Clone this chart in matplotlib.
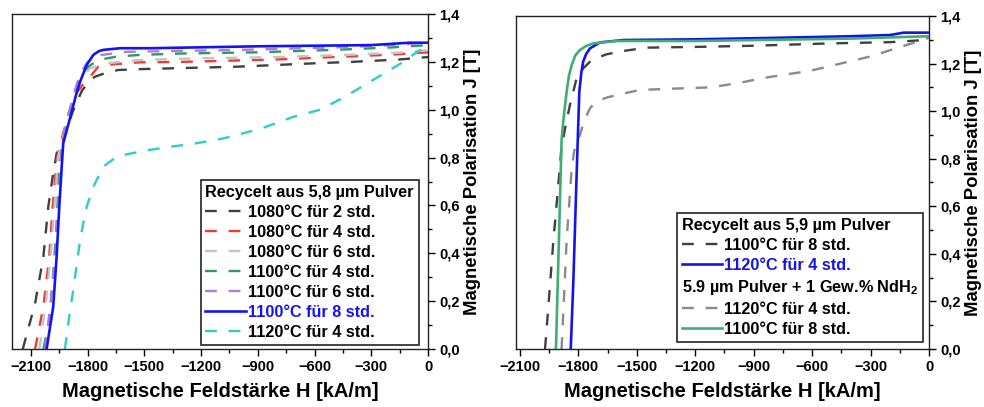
import matplotlib
matplotlib.use("Agg")
import matplotlib.pyplot as plt
from matplotlib.lines import Line2D
from matplotlib.ticker import MultipleLocator, FixedLocator, FixedFormatter

plt.rcParams['font.family'] = ['Liberation Sans', 'DejaVu Sans']
plt.rcParams['font.weight'] = 'bold'
plt.rcParams['mathtext.fontset'] = 'custom'
plt.rcParams['mathtext.rm'] = 'Liberation Sans:bold'
plt.rcParams['mathtext.default'] = 'rm'

# ---------------- data: left panel (Recycelt aus 5,8 µm Pulver) ----------------
H_1080_2 = [-2143, -2078, -2034, -2008, -1985, -1964, -1929, -1880, -1830, -1790, -1761, -1700, -1638, -1506, -1000, -600, -400, -150, 0]
J_1080_2 = [0.0, 0.19, 0.386, 0.595, 0.72, 0.818, 0.873, 0.99, 1.08, 1.12, 1.138, 1.155, 1.166, 1.170, 1.18, 1.194, 1.20, 1.21, 1.22]

H_1080_4 = [-2078, -2034, -2003, -1985, -1964, -1937, -1902, -1860, -1820, -1787, -1744, -1664, -1523, -1300, -800, -500, -200, 0]
J_1080_4 = [0.0, 0.177, 0.386, 0.595, 0.79, 0.88, 0.98, 1.07, 1.11, 1.138, 1.18, 1.19, 1.198, 1.20, 1.21, 1.22, 1.23, 1.24]

H_1080_6 = [-2055, -2020, -1995, -1975, -1957, -1932, -1902, -1860, -1820, -1787, -1699, -1523, -1200, -800, -400, -100, 0]
J_1080_6 = [0.0, 0.2, 0.4, 0.6, 0.8, 0.88, 0.98, 1.08, 1.14, 1.173, 1.194, 1.208, 1.215, 1.22, 1.23, 1.24, 1.25]

H_1100_4 = [-2034, -2003, -1982, -1964, -1950, -1930, -1902, -1865, -1830, -1796, -1744, -1646, -1523, -1300, -900, -500, -200, 0]
J_1100_4 = [0.0, 0.121, 0.316, 0.525, 0.75, 0.87, 0.98, 1.08, 1.15, 1.18, 1.208, 1.222, 1.229, 1.235, 1.24, 1.25, 1.26, 1.27]

H_1100_6 = [-2025, -1995, -1970, -1955, -1942, -1929, -1902, -1872, -1840, -1800, -1760, -1726, -1593, -1000, -500, -200, 0]
J_1100_6 = [0.0, 0.2, 0.4, 0.6, 0.78, 0.87, 0.97, 1.07, 1.15, 1.2, 1.22, 1.229, 1.242, 1.25, 1.26, 1.27, 1.28]

H_1100_8 = [-2017, -1982, -1964, -1950, -1937, -1929, -1905, -1884, -1862, -1840, -1805, -1770, -1740, -1717, -1629, -1470, -900, -300, -100, 0]
J_1100_8 = [0.0, 0.177, 0.386, 0.595, 0.762, 0.86, 0.93, 0.992, 1.06, 1.117, 1.187, 1.229, 1.245, 1.25, 1.257, 1.257, 1.265, 1.27, 1.28, 1.28]

H_1120_4 = [-1920, -1895, -1876, -1858, -1840, -1822, -1805, -1770, -1717, -1646, -1585, -1488, -1364, -1223, -1082, -888, -713, -571, -448, -342, -236, -130, -60, 0]
J_1120_4 = [0.0, 0.15, 0.247, 0.35, 0.455, 0.53, 0.595, 0.678, 0.762, 0.804, 0.815, 0.83, 0.845, 0.86, 0.88, 0.92, 0.97, 1.0, 1.05, 1.10, 1.15, 1.2, 1.24, 1.27]

left_labels = ["1080°C für 2 std.", "1080°C für 4 std.", "1080°C für 6 std.",
               "1100°C für 4 std.", "1100°C für 6 std.", "1100°C für 8 std.",
               "1120°C für 4 std."]
left_header = "Recycelt aus 5,8 µm Pulver"

# ---------------- data: right panel ----------------
H_r_1100_8 = [-1971, -1950, -1928, -1906, -1886, -1865, -1843, -1809, -1775, -1740, -1700, -1655, -1569, -1449, -1200, -900, -500, -200, 0]
J_r_1100_8 = [0.0, 0.22, 0.458, 0.66, 0.85, 0.94, 1.026, 1.138, 1.18, 1.208, 1.225, 1.239, 1.253, 1.267, 1.27, 1.275, 1.285, 1.29, 1.30]

H_r_1120_4 = [-1839, -1825, -1812, -1803, -1795, -1785, -1775, -1760, -1740, -1689, -1569, -1200, -800, -400, -200, -130, 0]
J_r_1120_4 = [0.0, 0.3, 0.65, 0.879, 1.082, 1.16, 1.209, 1.24, 1.264, 1.289, 1.299, 1.302, 1.308, 1.315, 1.32, 1.33, 1.33]

H_nd_1120_4 = [-1886, -1860, -1835, -1822, -1808, -1792, -1770, -1740, -1720, -1689, -1650, -1603, -1484, -1300, -1120, -966, -847, -608, -454, -300, -147, -27, 0]
J_nd_1120_4 = [0.0, 0.458, 0.75, 0.83, 0.87, 0.9, 0.96, 1.012, 1.03, 1.047, 1.058, 1.068, 1.089, 1.095, 1.10, 1.12, 1.14, 1.17, 1.20, 1.23, 1.27, 1.30, 1.31]

H_nd_1100_8 = [-1915, -1900, -1886, -1877, -1860, -1848, -1834, -1815, -1792, -1760, -1723, -1603, -1200, -800, -400, 0]
J_nd_1100_8 = [0.0, 0.45, 0.879, 0.96, 1.082, 1.15, 1.194, 1.235, 1.257, 1.274, 1.285, 1.295, 1.295, 1.30, 1.305, 1.315]

right_header1 = "Recycelt aus 5,9 µm Pulver"
right_header2 = "5.9 µm Pulver + 1 Gew.% NdH$_2$"
right_labels = ["1100°C für 8 std.", "1120°C für 4 std.", "1120°C für 4 std.", "1100°C für 8 std."]

# ticks
xticks = [-2100, -1800, -1500, -1200, -900, -600, -300, 0]
xtick_labels = ["\u22122100", "\u22121800", "\u22121500", "\u22121200", "\u2212900", "\u2212600", "\u2212300", "0"]
yticks = [0.0, 0.2, 0.4, 0.6, 0.8, 1.0, 1.2, 1.4]
ytick_labels = ["0,0", "0,2", "0,4", "0,6", "0,8", "1,0", "1,2", "1,4"]
xlabel = "Magnetische Feldstärke H [kA/m]"
ylabel = "Magnetische Polarisation J [T]"

FS_TICK = 10.5
FS_XLABEL = 14.5
FS_YLABEL = 13.3
FS_LEG = 11.7
LW_D = 1.7
LW_S = 1.9
DASH = (5, 5)

fig = plt.figure(figsize=(9.84, 4.07), dpi=100)
axL = fig.add_axes([12/984, 1-349/407, 416/984, 335/407])
axR = fig.add_axes([516/984, 1-349/407, 413/984, 333/407])


def style_axes(ax, xmin):
    ax.set_xlim(xmin, 0)
    ax.set_ylim(0, 1.4)
    ax.xaxis.set_major_locator(FixedLocator(xticks))
    ax.xaxis.set_major_formatter(FixedFormatter(xtick_labels))
    ax.xaxis.set_minor_locator(MultipleLocator(150))
    ax.yaxis.set_major_locator(FixedLocator(yticks))
    ax.yaxis.set_major_formatter(FixedFormatter(ytick_labels))
    ax.yaxis.set_minor_locator(MultipleLocator(0.1))
    ax.yaxis.tick_right()
    ax.yaxis.set_label_position("right")
    ax.tick_params(axis='both', which='major', direction='out', length=5, width=1.0,
                   labelsize=FS_TICK, pad=3)
    ax.tick_params(axis='both', which='minor', direction='out', length=3, width=1.0)
    ax.tick_params(axis='y', which='both', left=False, right=True)
    ax.tick_params(axis='x', which='both', top=False, bottom=True)
    for lab in ax.get_xticklabels() + ax.get_yticklabels():
        lab.set_fontweight('bold')
    for sp in ax.spines.values():
        sp.set_linewidth(1.0)
        sp.set_color('#222222')
    ax.set_xlabel(xlabel, fontsize=FS_XLABEL, fontweight='bold', labelpad=6)
    ax.set_ylabel(ylabel, fontsize=FS_YLABEL, fontweight='bold', labelpad=3)


def fix_headers(leg, header_idx):
    # header rows: remove handle area so the text starts at the left edge
    rows = []
    for col in leg._legend_handle_box.get_children():
        rows.extend(col.get_children())
    for i in header_idx:
        row = rows[i]
        h = row.get_children()[0]
        h.width = 0
        row.sep = 0


LEG_KW = dict(borderaxespad=0, prop={'weight': 'bold', 'size': FS_LEG},
              frameon=True, fancybox=False, edgecolor='#222222', framealpha=1,
              handlelength=2.5, handletextpad=0.12, labelspacing=0.31,
              borderpad=0.3)

# ---------------- left panel ----------------
style_axes(axL, -2200)
left_series = [
    (H_1080_2, J_1080_2, '#404040', 'dash'),
    (H_1080_4, J_1080_4, '#f03a3a', 'dash'),
    (H_1080_6, J_1080_6, '#c4c4c4', 'dash'),
    (H_1100_4, J_1100_4, '#2f9a5e', 'dash'),
    (H_1100_6, J_1100_6, '#b07ae0', 'dash'),
    (H_1100_8, J_1100_8, '#1414f0', 'solid'),
    (H_1120_4, J_1120_4, '#2fcccc', 'dash'),
]
handlesL = [Line2D([], [], linestyle='none')]
labelsL = [left_header]
for (H, J, c, ls), lab in zip(left_series, left_labels):
    if ls == 'dash':
        ln, = axL.plot(H, J, color=c, lw=LW_D, dashes=DASH, label=lab)
    else:
        ln, = axL.plot(H, J, color=c, lw=LW_S, label=lab, zorder=3)
    handlesL.append(ln)
    labelsL.append(lab)

legL = axL.legend(handlesL, labelsL, loc='lower right', bbox_to_anchor=(0.978, 0.012), **LEG_KW)
legL.get_frame().set_linewidth(1.2)
fix_headers(legL, [0])
legL.get_texts()[6].set_color('#1414f0')

# ---------------- right panel ----------------
style_axes(axR, -2120)
lr1, = axR.plot(H_r_1100_8, J_r_1100_8, color='#404040', lw=LW_D, dashes=DASH)
lr2, = axR.plot(H_r_1120_4, J_r_1120_4, color='#1414e6', lw=LW_S, zorder=3)
lr3, = axR.plot(H_nd_1120_4, J_nd_1120_4, color='#8a8a8a', lw=LW_D, dashes=DASH)
lr4, = axR.plot(H_nd_1100_8, J_nd_1100_8, color='#3fae72', lw=LW_S, zorder=3)

handlesR = [Line2D([], [], linestyle='none'), lr1, lr2,
            Line2D([], [], linestyle='none'), lr3, lr4]
labelsR = [right_header1, right_labels[0], right_labels[1],
           right_header2, right_labels[2], right_labels[3]]
legR = axR.legend(handlesR, labelsR, loc='lower right', bbox_to_anchor=(0.985, 0.021), **LEG_KW)
legR.get_frame().set_linewidth(1.2)
fix_headers(legR, [0, 3])
legR.get_texts()[2].set_color('#1414e6')

fig.savefig("out.png", dpi=100)
